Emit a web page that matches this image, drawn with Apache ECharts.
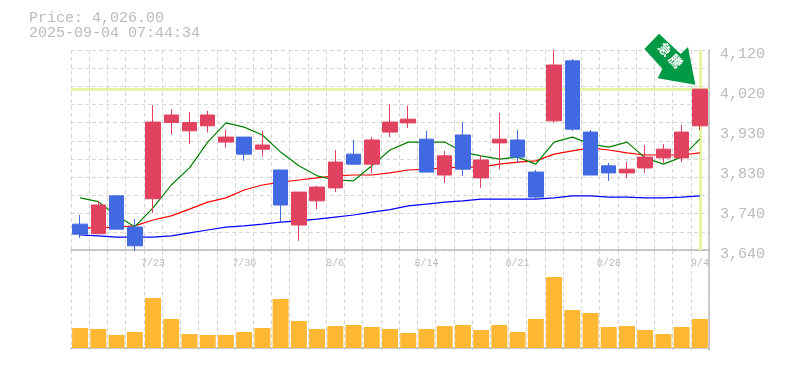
<!DOCTYPE html>
<html><head><meta charset="utf-8">
<style>html,body{margin:0;padding:0;background:#fff}#c{width:785px;height:370px}</style>
<script src="https://cdn.jsdelivr.net/npm/echarts@6/dist/echarts.min.js"></script>
</head><body><div id="c"></div>
<script>
const titleLines = ['Price: 4,026.00', '2025-09-04 07:44:34'];
const dates = ['7/16','7/17','7/18','7/22','7/23','7/24','7/25','7/28','7/29','7/30','7/31','8/1','8/4','8/5','8/6','8/7','8/8','8/12','8/13','8/14','8/15','8/18','8/19','8/20','8/21','8/22','8/25','8/26','8/27','8/28','8/29','9/1','9/2','9/3','9/4'];
const priceTickLabels = ['3,640','3,740','3,830','3,930','4,020','4,120'];
const lastPrice = 4026;
const opens  = [3702,3679,3770,3695,3763,3946,3926,3938,3899,3911,3882,3832,3700,3758,3789,3870,3846,3923,3945,3906,3820,3916,3813,3897,3904,3827,3950,4094,3923,3842,3825,3837,3861,3861,3938];
const closes = [3678,3748,3690,3650,3947,3964,3946,3964,3911,3870,3892,3748,3779,3791,3851,3846,3904,3947,3954,3827,3866,3834,3856,3906,3863,3767,4084,3930,3820,3825,3834,3863,3882,3923,4026];
const lows   = [3669,3678,3690,3638,3729,3917,3894,3922,3886,3854,3864,3707,3662,3738,3779,3844,3825,3911,3933,3827,3801,3818,3789,3834,3851,3762,3945,3926,3820,3806,3813,3825,3849,3851,3928];
const highs  = [3724,3758,3770,3714,3988,3978,3971,3974,3928,3911,3926,3832,3779,3794,3880,3904,3911,3990,3986,3926,3878,3947,3868,3969,3928,3832,4120,4098,3928,3849,3851,3892,3894,3940,4026];
const maShort = [3765,3756,3722,3696,3741,3796,3837,3899,3945,3935,3916,3875,3842,3818,3808,3806,3842,3880,3899,3899,3899,3875,3866,3858,3863,3846,3899,3911,3894,3887,3899,3861,3846,3863,3906];
const maMid   = [3693,3693,3695,3698,3712,3722,3738,3755,3765,3784,3796,3803,3808,3813,3818,3820,3820,3825,3832,3834,3837,3839,3839,3846,3851,3854,3870,3878,3885,3880,3873,3868,3868,3868,3873];
const maLong  = [3676,3674,3671,3671,3671,3674,3681,3688,3695,3698,3702,3707,3710,3714,3719,3724,3731,3737,3746,3750,3755,3758,3762,3762,3762,3762,3765,3770,3770,3767,3767,3765,3765,3767,3770];
const volumes = [20,19,13,16,50,29,14,13,13,16,20,49,27,19,22,23,21,19,15,19,22,23,18,23,16,29,71,38,35,21,22,18,14,21,29];

const font = '"Liberation Mono", monospace';
const grey = '#bbbbbb', gridC = '#d6d6d6';
const candles = dates.map((d,i)=>[opens[i],closes[i],lows[i],highs[i]]);
const dash = {color:gridC,type:[4,3],width:1};
const line = (data,color,width)=>({type:'line',data,xAxisIndex:0,yAxisIndex:0,symbol:'none',silent:true,z:3,animation:false,
  lineStyle:{color,width}});
const arrowPath = 'path://M14.6 0 L0 15.3 L18 35 L13.3 44.3 L51 50.7 L43.6 13.3 L36.3 20.3 Z';
const chart = echarts.init(document.getElementById('c'),null,{renderer:'canvas'});
chart.setOption({
  animation:false,backgroundColor:'#fff',
  title:{left:24,top:6,text:titleLines.join('\n'),textStyle:{fontFamily:font,fontSize:15,fontWeight:'normal',color:grey,lineHeight:15}},
  grid:[{left:71,width:638,top:50,height:200},{left:71,width:638,top:250,height:100}],
  xAxis:[
    {type:'category',gridIndex:0,data:dates,boundaryGap:true,axisTick:{show:false},
     axisLine:{lineStyle:{color:grey,width:1.5}},
     axisLabel:{color:grey,fontSize:10,fontFamily:font,margin:8,showMinLabel:true,showMaxLabel:true,hideOverlap:false,interval:(i)=>i%5===4},
     splitLine:{show:true,interval:0,lineStyle:dash}},
    {type:'category',gridIndex:1,data:dates,boundaryGap:true,axisTick:{show:false},axisLabel:{show:false},
     axisLine:{lineStyle:{color:grey,width:1.5}},
     splitLine:{show:true,interval:0,lineStyle:dash}}
  ],
  yAxis:[
    {type:'value',gridIndex:0,min:3640,max:4120,show:false,splitLine:{show:false}},
    {type:'value',gridIndex:0,position:'right',min:0,max:5,interval:1,
     axisLine:{show:true,lineStyle:{color:grey,width:1.5}},axisTick:{show:false},splitLine:{show:false},
     axisLabel:{color:grey,fontSize:15,fontFamily:font,margin:11,verticalAlign:'top',lineHeight:8,formatter:v=>priceTickLabels[v]}},
    {type:'value',gridIndex:0,min:0,max:11,interval:1,axisLine:{show:false},axisTick:{show:false},axisLabel:{show:false},
     splitLine:{show:true,lineStyle:dash}},
    {type:'value',gridIndex:1,position:'right',min:-2,max:98,axisLabel:{show:false},axisTick:{show:false},
     axisLine:{show:true,lineStyle:{color:grey,width:1.5}},splitLine:{show:false}}
  ],
  series:[
    {type:'candlestick',data:candles,xAxisIndex:0,yAxisIndex:0,barWidth:15,z:4,clip:false,
     itemStyle:{color:'#E1425F',borderColor:'#E1425F',color0:'#4169E1',borderColor0:'#4169E1',borderWidth:1},
     markLine:{silent:true,symbol:'none',animation:false,z:1,label:{show:false},
       lineStyle:{color:'#E4F5A6',width:3,type:'solid'},
       data:[{yAxis:lastPrice},{xAxis:dates[dates.length-1]}]},
     markPoint:{silent:true,animation:false,z:6,data:[{
       coord:[dates[dates.length-1],lastPrice],symbol:arrowPath,symbolSize:[51,51],symbolKeepAspect:false,symbolOffset:[-30,-30],
       itemStyle:{color:'#009944'},
       label:{show:true,position:'inside',formatter:'急 騰',rotate:-47,offset:[-2.5,-3],color:'#fff',fontSize:13,fontWeight:'bold',fontFamily:'"Noto Sans CJK JP"'}
     }]}},
    line(maLong,'#0000FF',1.2),
    line(maMid,'#FF0000',1.2),
    line(maShort,'#008000',1.2),
    {type:'bar',data:volumes,xAxisIndex:1,yAxisIndex:3,barWidth:16,silent:true,itemStyle:{color:'#FFB833'}}
  ]
});
</script></body></html>
